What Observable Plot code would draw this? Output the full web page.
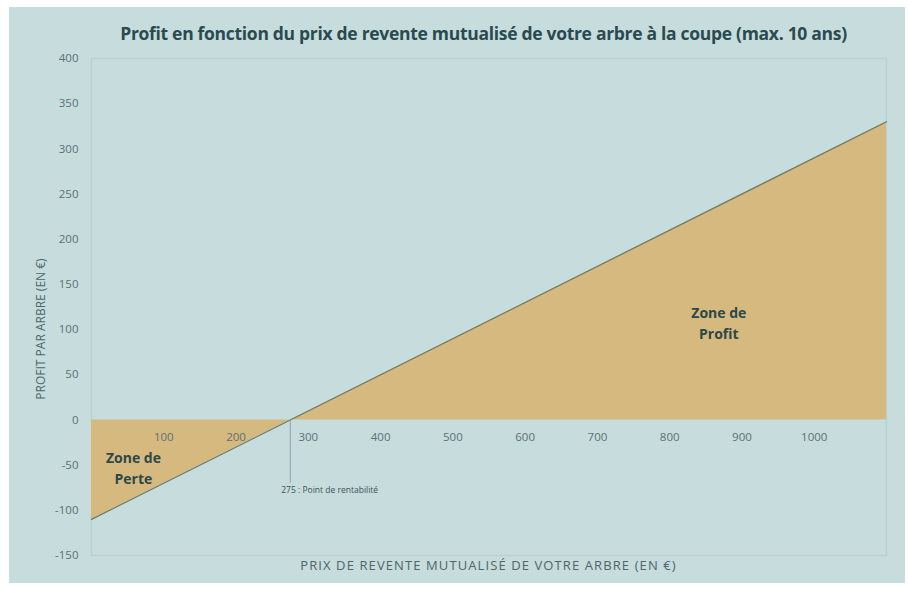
<!DOCTYPE html>
<html>
<head>
<meta charset="utf-8">
<script src="https://cdn.jsdelivr.net/npm/d3@7"></script>
<script src="https://cdn.jsdelivr.net/npm/@observablehq/plot@0.6"></script>
<style>
  html, body { margin: 0; padding: 0; background: #ffffff; }
  #wrap { position: relative; width: 908px; height: 589px; background: #ffffff; overflow: hidden; font-family: "Open Sans", Roboto, sans-serif; }
  #panel { position: absolute; left: 9px; top: 7px; width: 896px; height: 576px; background: #c6dcdd; }
  #title { position: absolute; left: 81px; top: 21px; width: 805px; text-align: center; font: 700 17.5px "Open Sans", sans-serif; color: #2b4a50; letter-spacing: -0.3px; white-space: nowrap; }
  #chart { position: absolute; left: 0; top: 46px; }
  #xlabel { position: absolute; left: 91px; width: 795px; top: 556px; text-align: center; font: 400 13px "Open Sans", sans-serif; letter-spacing: 1.1px; color: #4f6568; white-space: nowrap; }
  #ylabel { position: absolute; left: 40px; top: 329px; transform: translate(-50%, -50%) rotate(-90deg); font: 400 12px "Open Sans", sans-serif; color: #4f6568; white-space: nowrap; }
</style>
</head>
<body>
<div id="wrap">
  <div id="panel"></div>
  <div id="title">Profit en fonction du prix de revente mutualisé de votre arbre à la coupe (max. 10 ans)</div>
  <div id="chart"></div>
  <div id="xlabel">PRIX DE REVENTE MUTUALISÉ DE VOTRE ARBRE (EN €)</div>
  <div id="ylabel">PROFIT PAR ARBRE (EN €)</div>
</div>
<script>
// Data
const prices  = [0, 275, 1100];          // prix de revente (€)
const profits = [-110, 0, 330];          // profit par arbre (€)
const breakEven = [275];
const xTicks = [100, 200, 300, 400, 500, 600, 700, 800, 900, 1000];
const yTicks = [-150, -100, -50, 0, 50, 100, 150, 200, 250, 300, 350, 400];

const rows = prices.map((p, i) => ({price: p, profit: profits[i]}));

const plot = Plot.plot({
  width: 908,
  height: 543,
  marginLeft: 91,
  marginRight: 22,
  marginTop: 12,
  marginBottom: 34,
  style: {background: "transparent", fontFamily: "'Open Sans', sans-serif", fontSize: "11.5px", color: "#5b7174"},
  x: {domain: [0, 1100], axis: null},
  y: {domain: [-150, 400], ticks: yTicks, tickSize: 0, tickPadding: 13, tickFormat: d => String(d), label: null},
  marks: [
    Plot.frame({stroke: "#bccfd1", strokeWidth: 1.5}),
    Plot.areaY(rows, {x: "price", y1: 0, y2: "profit", fill: "#d5b97f", curve: "linear"}),
    Plot.line(rows, {x: "price", y: "profit", stroke: "#6c7a62", strokeWidth: 1.2}),
    Plot.text(xTicks, {x: d => d, y: 0, text: d => String(d), dy: 17, fill: "#5b7174", fontSize: 11.5}),
    Plot.ruleX(breakEven, {y1: 0, y2: -70, stroke: "#8fa4a6", strokeWidth: 1}),
    Plot.text(breakEven, {x: d => d, y: -78, text: d => `${d} : Point de rentabilité`, textAnchor: "start", dx: -9, fontSize: 8.5, fill: "#3d5356"}),
    Plot.text(["Zone de\nPerte"], {x: 58, y: -52, text: d => d, fontSize: 14, fontWeight: 700, fill: "#2e474a", lineHeight: 1.5}),
    Plot.text(["Zone de\nProfit"], {x: 868, y: 109, text: d => d, fontSize: 14, fontWeight: 700, fill: "#2e474a", lineHeight: 1.5})
  ]
});
document.getElementById("chart").append(plot);
</script>
</body>
</html>
